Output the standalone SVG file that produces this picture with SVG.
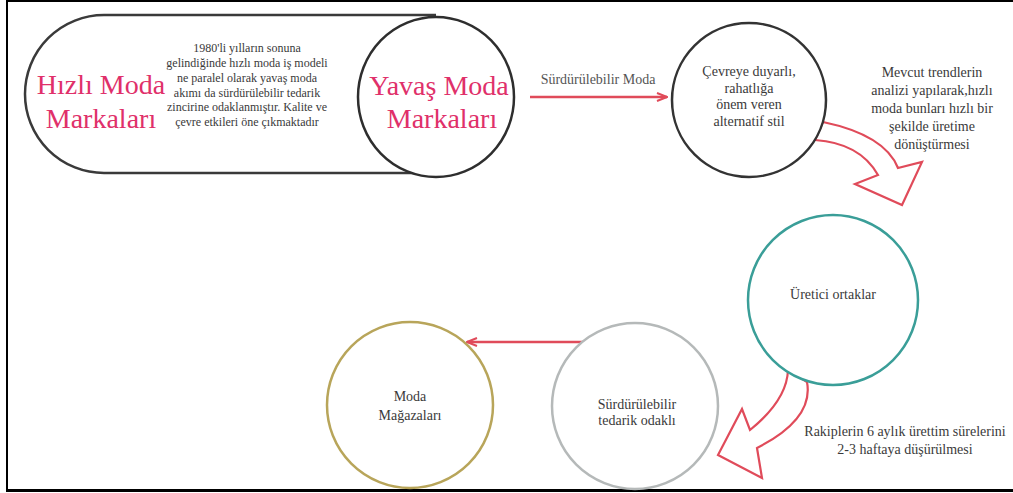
<svg xmlns="http://www.w3.org/2000/svg" width="1013" height="493" viewBox="0 0 1013 493">
<defs>
<style>
.txt{font-family:"Liberation Serif","Times New Roman",serif;fill:#3a3a3a;text-anchor:middle}
.s12{font-size:12px}
.s14{font-size:14px}
.big{font-family:"Liberation Serif","Times New Roman",serif;font-size:28px;fill:#e0306a;text-anchor:middle}
.red{stroke:#e04b5a;stroke-width:2.5;fill:none}
.block{stroke:#e04b5a;stroke-width:2.2;fill:#fff;stroke-linejoin:miter}
.node{fill:#fff;stroke-width:2.5}
</style>
<marker id="ah" viewBox="0 0 12 10" refX="11" refY="5" markerWidth="12" markerHeight="10" markerUnits="userSpaceOnUse" orient="auto">
<path d="M1,1 L11,5 L1,9" fill="none" stroke="#e04b5a" stroke-width="2"/>
</marker>
</defs>
<rect x="0" y="0" width="1013" height="493" fill="#fff"/>
<g id="frame" fill="#000">
<rect x="6" y="0" width="1007" height="2"/>
<rect x="6" y="0" width="2" height="492"/>
<rect x="6" y="489" width="1007" height="3"/>
</g>
<g id="connectors">
<path class="block" d="M823,122 Q885,135 898,168 L922,162 L902,205 L855,184 L878,175 Q860,143 815,140 Z"/>
<path class="block" d="M788,370 Q787,400 750,430 L742,409 L718,455 L762,478 L757,448 Q814,419 807,382 Z"/>
<line class="red" x1="530" y1="97" x2="667" y2="97" marker-end="url(#ah)"/>
<line class="red" x1="584" y1="342" x2="467" y2="342" marker-end="url(#ah)"/>
<text class="txt s14" x="598" y="84" style="fill:#555">Sürdürülebilir Moda</text>
<text class="txt s14" x="932" y="77">Mevcut trendlerin</text>
<text class="txt s14" x="932" y="95">analizi yapılarak,hızlı</text>
<text class="txt s14" x="932" y="113">moda bunları hızlı bir</text>
<text class="txt s14" x="932" y="131">şekilde üretime</text>
<text class="txt s14" x="932" y="149">dönüştürmesi</text>
<text class="txt s14" x="905" y="436">Rakiplerin 6 aylık ürettim sürelerini</text>
<text class="txt s14" x="905" y="454">2-3 haftaya düşürülmesi</text>
</g>
<g id="hizli">
<path d="M436,15 H104 A79,79 0 0 0 104,173 H436" fill="#fff" stroke="#3a3a3a" stroke-width="2.5"/>
<text class="big" x="101" y="94">Hızlı Moda</text>
<text class="big" x="101" y="128">Markaları</text>
<text class="txt s12" x="247" y="52">1980'li yılların sonuna</text>
<text class="txt s12" x="247" y="67">gelindiğinde hızlı moda iş modeli</text>
<text class="txt s12" x="247" y="82">ne paralel olarak yavaş moda</text>
<text class="txt s12" x="247" y="96.5">akımı da sürdürülebilir tedarik</text>
<text class="txt s12" x="247" y="111">zincirine odaklanmıştır. Kalite ve</text>
<text class="txt s12" x="247" y="126">çevre etkileri öne çıkmaktadır</text>
</g>
<g id="yavas">
<ellipse class="node" cx="436" cy="97" rx="78" ry="80" stroke="#2e2e2e"/>
<text class="big" x="439" y="95">Yavaş Moda</text>
<text class="big" x="442" y="128">Markaları</text>
</g>
<g id="cevre">
<circle class="node" cx="749" cy="100" r="77" stroke="#333"/>
<text class="txt s14" x="749" y="76">Çevreye duyarlı,</text>
<text class="txt s14" x="749" y="93">rahatlığa</text>
<text class="txt s14" x="749" y="109">önem veren</text>
<text class="txt s14" x="749" y="126">alternatif stil</text>
</g>
<g id="uretici">
<circle class="node" cx="833" cy="300" r="85" stroke="#3a9e98"/>
<text class="txt s14" x="833" y="299">Üretici ortaklar</text>
</g>
<g id="surdurulebilir">
<circle class="node" cx="635" cy="406" r="83" stroke="#b5b9b9"/>
<text class="txt s14" x="637" y="409">Sürdürülebilir</text>
<text class="txt s14" x="637" y="425">tedarik odaklı</text>
</g>
<g id="magaza">
<circle class="node" cx="410" cy="405" r="83" stroke="#b8a55a"/>
<text class="txt s14" x="410" y="401">Moda</text>
<text class="txt s14" x="410" y="420">Mağazaları</text>
</g>
</svg>
